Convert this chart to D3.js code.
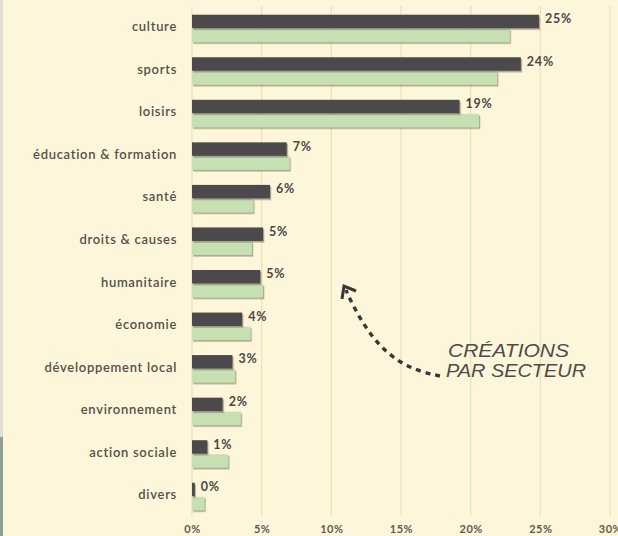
<!DOCTYPE html>
<html><head><meta charset="utf-8">
<script src="https://cdn.jsdelivr.net/npm/d3@7"></script>
<style>
html,body{margin:0;padding:0;background:#fef6da;}
svg{display:block;}
</style></head>
<body>
<svg id="chart" width="618" height="536"></svg>
<script>
const categories = ["culture","sports","loisirs","éducation & formation","santé","droits & causes","humanitaire","économie","développement local","environnement","action sociale","divers"];
const darkValues = [24.9,23.6,19.2,6.8,5.6,5.1,4.9,3.6,2.9,2.2,1.1,0.2];
const greenValues = [22.8,21.9,20.6,7.0,4.4,4.3,5.1,4.2,3.1,3.5,2.6,0.9];
const valueLabels = ["25%","24%","19%","7%","6%","5%","5%","4%","3%","2%","1%","0%"];
const tickValues = [0,5,10,15,20,25,30];
const annotation = ["CRÉATIONS","PAR SECTEUR"];

const svg = d3.select("#chart");
const W = 618, H = 536;
svg.append("rect").attr("width",W).attr("height",H).attr("fill","#fef6da");
// left frame strip
svg.append("rect").attr("x",0).attr("y",0).attr("width",3).attr("height",437).attr("fill","#e2e0d6");
svg.append("rect").attr("x",0).attr("y",437).attr("width",3).attr("height",99).attr("fill","#8d9f97");

const defs = svg.append("defs");
const f = defs.append("filter").attr("id","sh").attr("x","-5%").attr("y","-30%").attr("width","115%").attr("height","180%");
f.append("feDropShadow").attr("dx",1.2).attr("dy",1.6).attr("stdDeviation",0.7).attr("flood-color","#6b6240").attr("flood-opacity",0.55);

const x = d3.scaleLinear().domain([0,30]).range([192,610]);
const y = d3.scaleBand().domain(categories).range([7.7,518.3]).padding(0);
const sub = d3.scaleBand().domain(["dark","green"]).range([7,35]).padding(0);

// gridlines
svg.append("g").selectAll("line").data(tickValues).join("line")
  .attr("x1",d=>x(d)).attr("x2",d=>x(d)).attr("y1",6).attr("y2",516)
  .attr("stroke","#ebe0bd").attr("stroke-width",1.2);

// x axis labels
const xAxis = d3.axisBottom(x).tickValues(tickValues).tickFormat(d=>d+"%").tickSize(0).tickPadding(0);
const gx = svg.append("g").attr("transform","translate(0,525)").call(xAxis);
gx.select(".domain").remove();
gx.selectAll("text").attr("fill","#5e5852").attr("font-family","Lato, sans-serif").attr("font-size",11).attr("font-weight","bold").attr("letter-spacing","0.5");

// y axis labels
const yAxis = d3.axisLeft(y).tickSize(0).tickPadding(0);
const gy = svg.append("g").attr("transform","translate(177,0)").call(yAxis);
gy.select(".domain").remove();
gy.selectAll(".tick").attr("transform",d=>`translate(0,${y(d)+19})`);
gy.selectAll("text").attr("fill","#55504a").attr("font-family","Lato, sans-serif").attr("font-size",13).attr("font-weight","600").attr("letter-spacing","0.7").attr("x",0).attr("dy","0.35em");

// bars
const rows = categories.map((c,i)=>({c, d:darkValues[i], g:greenValues[i], l:valueLabels[i]}));
const gb = svg.append("g");
gb.selectAll("rect.green").data(rows).join("rect").attr("class","green")
  .attr("x",x(0)).attr("y",r=>y(r.c)+sub("green"))
  .attr("width",r=>x(r.g)-x(0)).attr("height",sub.bandwidth()-0.5)
  .attr("fill","#c6e0b4").attr("filter","url(#sh)");
gb.selectAll("rect.dark").data(rows).join("rect").attr("class","dark")
  .attr("x",x(0)).attr("y",r=>y(r.c)+sub("dark"))
  .attr("width",r=>x(r.d)-x(0)).attr("height",sub.bandwidth()-0.5)
  .attr("fill","#4c4a4c").attr("filter","url(#sh)");
gb.selectAll("text.val").data(rows).join("text").attr("class","val")
  .attr("x",r=>x(r.d)+6).attr("y",r=>y(r.c)+sub("dark")+4)
  .attr("dy","0.35em")
  .attr("fill","#4a4645").attr("font-family","Lato, sans-serif").attr("font-size",12.5).attr("font-weight","bold").attr("letter-spacing","0.8")
  .text(r=>r.l);

// annotation arrow
const arrowPts = [[440,376],[405,368],[372,340],[350,300],[346,290]];
svg.append("path").attr("d",d3.line().curve(d3.curveBasis)(arrowPts))
  .attr("fill","none").attr("stroke","#3a3837").attr("stroke-width",3.4).attr("stroke-dasharray","5,5");
svg.append("path").attr("d","M342,299 L344,286 L356,291")
  .attr("fill","none").attr("stroke","#3a3837").attr("stroke-width",3);

svg.append("g").selectAll("text").data(annotation).join("text")
  .attr("x",(d,i)=>i===0?448:446).attr("y",(d,i)=>357+i*19.5)
  .attr("fill","#4d4b4b").attr("font-family","'Liberation Sans', sans-serif").attr("font-style","italic")
  .attr("font-size",17.5).attr("textLength",(d,i)=>i===0?121:140).attr("lengthAdjust","spacingAndGlyphs")
  .text(d=>d);
</script>
</body></html>
